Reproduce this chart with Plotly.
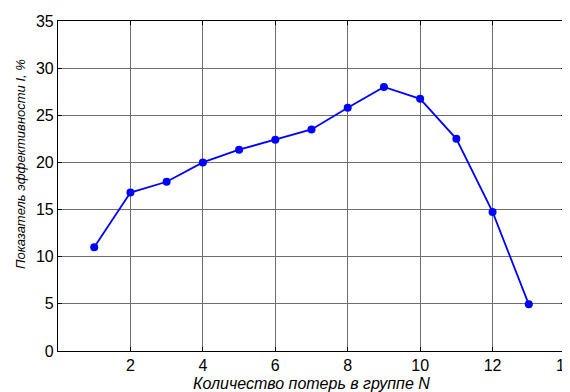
import plotly.graph_objects as go

n_values = [1, 2, 3, 4, 5, 6, 7, 8, 9, 10, 11, 12, 13]
efficiency = [11.0, 16.8, 17.95, 20.0, 21.35, 22.4, 23.5, 25.8, 28.0, 26.75, 22.5, 14.75, 4.95]
x_ticks = [2, 4, 6, 8, 10, 12, 14]
y_ticks = [0, 5, 10, 15, 20, 25, 30, 35]
x_title = "Количество потерь в группе N"
y_title = "Показатель эффективности I, %"

fig = go.Figure()
fig.add_trace(go.Scatter(
    x=n_values, y=efficiency, mode="lines+markers",
    line=dict(color="#0000ff", width=1.8),
    marker=dict(color="#0000ff", size=8),
    showlegend=False,
))

axis_common = dict(
    showline=True, linecolor="black", linewidth=1.2, mirror="ticks",
    ticks="inside", ticklen=4, tickcolor="black",
    showgrid=True, gridcolor="#6e6e6e", gridwidth=1,
    zeroline=False, automargin=False, ticklabeloverflow="allow",
    tickfont=dict(family="Liberation Sans, Arial", size=16, color="black"),
)

fig.update_xaxes(range=[0, 14], tickvals=x_ticks, **axis_common)
fig.update_yaxes(range=[0, 35], tickvals=y_ticks, **axis_common)

fig.add_annotation(text="<i>" + x_title + "</i>", xref="paper", yref="paper",
                   x=0.5, y=0, yshift=-32, showarrow=False, yanchor="middle",
                   font=dict(family="Liberation Sans, Arial", size=16, color="black"))
fig.add_annotation(text="<i>" + y_title + "</i>", xref="paper", yref="paper",
                   x=0, y=0.5, xshift=-38, yshift=22, showarrow=False, textangle=-90,
                   xanchor="center", yanchor="middle",
                   font=dict(family="Liberation Sans, Arial", size=13, color="black"))

# page body has an 8px margin, so the figure is sized to fill the rest of the window
fig.update_layout(
    width=562, height=384,
    margin=dict(l=50, r=5, t=13, b=41),
    plot_bgcolor="white", paper_bgcolor="white",
)
fig.write_html("out.html")
